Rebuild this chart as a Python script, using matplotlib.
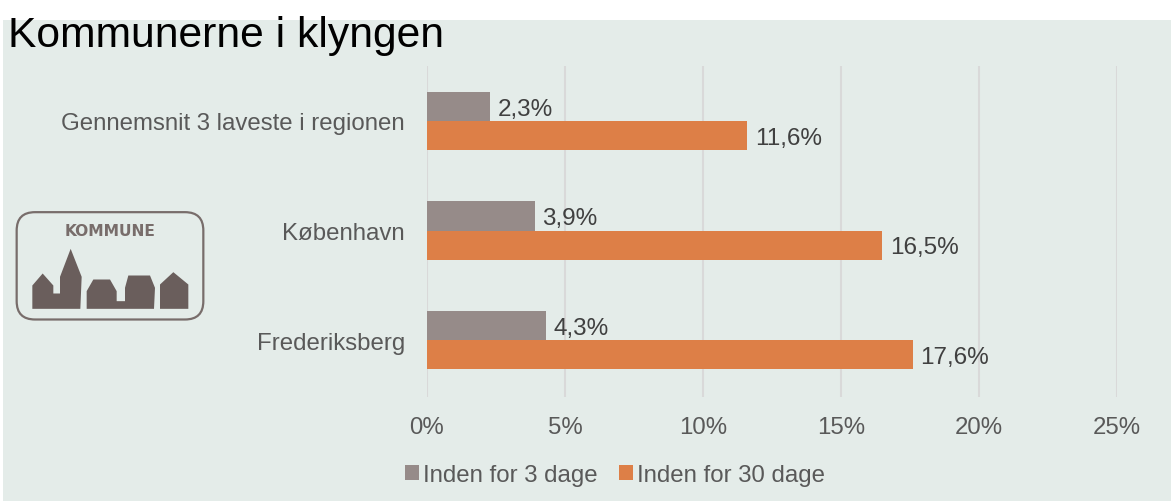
import matplotlib
matplotlib.use("Agg")
import matplotlib.pyplot as plt
from matplotlib.patches import FancyBboxPatch, Polygon, Rectangle
from matplotlib.ticker import FuncFormatter
import numpy as np

plt.rcParams['font.family'] = ['Liberation Sans', 'DejaVu Sans']

title = "Kommunerne i klyngen"
categories = ["Gennemsnit 3 laveste i regionen", "København", "Frederiksberg"]
series_names = ["Inden for 3 dage", "Inden for 30 dage"]
values_3 = [2.3, 3.9, 4.3]
values_30 = [11.6, 16.5, 17.6]
xticks = [0, 5, 10, 15, 20, 25]

GRAY = "#968b89"
ORANGE = "#dd7f47"
TXT = "#595959"
BG = "#e4ecE9"
W, H = 1171, 502

fig = plt.figure(figsize=(W/100, H/100), dpi=100, facecolor="white")

def px_axes(x0, y0, x1, y1, **kw):
    return fig.add_axes([x0/W, 1-y1/H, (x1-x0)/W, (y1-y0)/H], **kw)

fig.patches.append(Rectangle((3/W, 0), (W-3)/W, (H-21)/H, transform=fig.transFigure,
                             facecolor=BG, edgecolor="none", zorder=-10))

ax = px_axes(427, 67, 1117, 398)
ax.patch.set_alpha(0)
y = np.arange(len(categories))
h = 0.265
b1 = ax.barh(y - h/2, values_3, h, color=GRAY, label=series_names[0], zorder=3)
b2 = ax.barh(y + h/2, values_30, h, color=ORANGE, label=series_names[1], zorder=3)
ax.set_ylim(2.52, -0.502)
ax.set_xlim(0, 25)
ax.set_xticks(xticks)
ax.xaxis.set_major_formatter(FuncFormatter(lambda v, p: f"{v:.0f}%"))
ax.set_yticks(y)
ax.set_yticklabels(categories)
ax.tick_params(axis='x', length=0, pad=14, labelsize=17.3, labelcolor=TXT)
ax.tick_params(axis='y', length=0, pad=16, labelsize=17.3, labelcolor=TXT)
ax.grid(axis='x', color="#d9d9d9", linewidth=1.5, zorder=0)
ax.set_axisbelow(True)
for s in ax.spines.values():
    s.set_visible(False)

for offs, vals in ((-h/2, values_3), (h/2, values_30)):
    for yi, v in zip(y, vals):
        ax.annotate(f"{v:.1f}%".replace(".", ","), (v, yi + offs),
                    xytext=(5.5, -1.5), textcoords="offset points",
                    ha="left", va="center", fontsize=17.5, color="#404040")

fig.text(8/W, 1-36/H, title, fontsize=30.7, color="black", va="center", ha="left")

fig.legend(handles=[b1, b2], labels=series_names, loc="center", ncol=2,
           bbox_to_anchor=(615/W, 1-476/H), frameon=False, fontsize=17.3,
           labelcolor=TXT, handlelength=0.58, handleheight=0.58,
           handletextpad=0.17, columnspacing=0.9, borderpad=0)

# Logo drawn in crop-scaled pixel units
logo = px_axes(0, 190.5, 230, 340.5)
logo.set_xlim(0, 690)
logo.set_ylim(450, 0)
logo.axis("off")
LOGO = "#6a5e5c"
logo.add_patch(FancyBboxPatch((50+55, 68+55), 560-110, 322-110,
                              boxstyle="round,pad=55,rounding_size=55",
                              facecolor="none", edgecolor="#786d6b", linewidth=1.6))
shapes = [
    [(97, 358), (97, 288), (128, 252), (160, 288), (160, 312), (180, 312), (180, 262),
     (212, 178), (245, 262), (241, 358)],
    [(260, 358), (260, 305), (280, 270), (330, 270), (350, 305), (350, 335), (375, 335),
     (375, 295), (385, 258), (450, 258), (465, 295), (462, 358)],
    [(480, 358), (480, 285), (520, 248), (565, 285), (565, 358)],
]
for s in shapes:
    logo.add_patch(Polygon(s, closed=True, facecolor=LOGO, edgecolor="none"))
logo.text(330, 122, "KOMMUNE", fontsize=11.2, fontweight="bold", color="#786d6b",
          ha="center", va="center", family=["DejaVu Sans"])

fig.savefig("out.png", dpi=100)
